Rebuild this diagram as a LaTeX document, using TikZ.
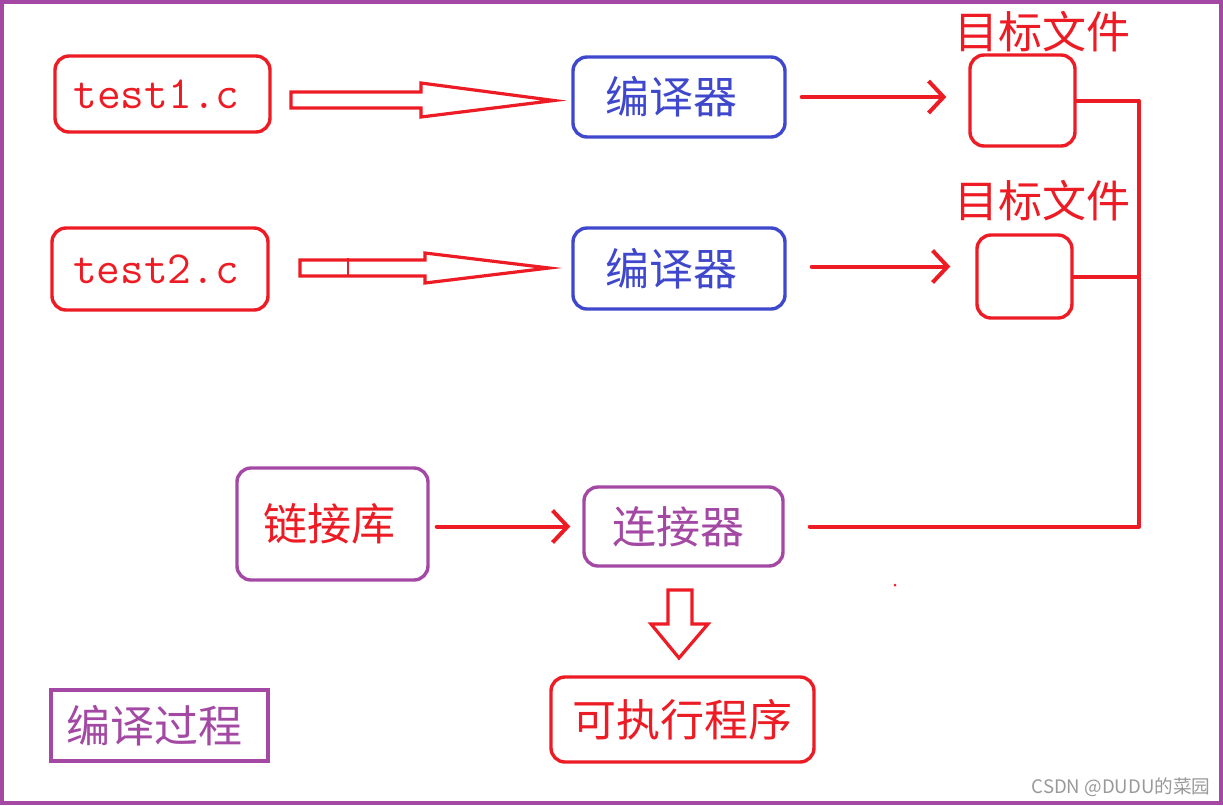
\documentclass[tikz,border=0pt]{standalone}
\usepackage{fontspec}
\newfontfamily\cjk{Noto Sans CJK SC}
\usetikzlibrary{arrows.meta,calc}
\definecolor{pred}{HTML}{ED1C24}
\definecolor{pblue}{HTML}{3F48CC}
\definecolor{ppurple}{HTML}{A349A4}
\begin{document}
\begin{tikzpicture}[x=0.5pt,y=-0.5pt,
  box/.style={draw, rounded corners=7pt, line width=1.7pt, inner sep=0pt, align=center},
  cjkt/.style={font=\cjk\fontsize{22pt}{26pt}\selectfont},
  mono/.style={font=\ttfamily\fontsize{23pt}{27pt}\selectfont},
  conn/.style={draw=pred, line width=2pt, line cap=round, line join=round},
  barb/.style={-{Straight Barb[length=7.5pt,width=16pt]}},
  hollow/.style={draw=pred, line width=1.6pt, fill=white, line join=miter}]
\useasboundingbox (0,0) rectangle (1223,805);
\draw[ppurple, line width=2.2pt] (2,2) rectangle (1221,803);

% source files
\node[box, draw=pred, text=pred, mono, minimum width=107.5pt, minimum height=38pt] (t1) at (162.5,94) {test1.c\hspace*{6pt}};
\node[box, draw=pred, text=pred, mono, minimum width=108pt, minimum height=41pt] (t2) at (160,269) {test2.c\hspace*{4pt}};

% compilers
\node[box, draw=pblue, text=pblue, cjkt, minimum width=106pt, minimum height=40pt] (c1) at (679,97) {编译器\hspace*{8pt}};
\node[box, draw=pblue, text=pblue, cjkt, minimum width=106pt, minimum height=40.5pt] (c2) at (679,268.5) {编译器\hspace*{8pt}};

% object files
\node[box, draw=pred, minimum width=52.5pt, minimum height=45.5pt] (o1) at (1022.5,100.5) {};
\node[box, draw=pred, minimum width=47.5pt, minimum height=41.5pt] (o2) at (1024.5,276.5) {};
\node[text=pred, cjkt, inner sep=0pt] (l1) at (1042,32) {目标文件};
\node[text=pred, cjkt, inner sep=0pt] (l2) at (1042,201) {目标文件};

% linker
\node[box, draw=ppurple, text=pred, cjkt, minimum width=95.5pt, minimum height=56pt] (lib) at (332.5,524) {链接库\hspace*{3pt}};
\node[box, draw=ppurple, text=ppurple, cjkt, minimum width=99.5pt, minimum height=39.5pt] (lnk) at (683.5,526.5) {连接器\hspace*{5pt}};

% result
\node[box, draw=pred, text=pred, cjkt, minimum width=131.5pt, minimum height=42.5pt] (exe) at (682.5,719.5) {可执行程序};
\node[box, rounded corners=0pt, draw=ppurple, text=ppurple, cjkt, minimum width=108.5pt, minimum height=35.5pt] (proc) at (159.5,725.5) {编译过程\hspace*{5pt}};

% hollow arrows
\draw[hollow] (291,92) -- (421,92) -- (421,83) -- (554,100.5) -- (421,117) -- (421,108) -- (291,108) -- cycle;
\draw[hollow] (300,260) -- (425,260) -- (425,253) -- (549,268) -- (425,283) -- (425,276) -- (300,276) -- cycle;
\draw[pred, line width=1.4pt] (348,258) -- (348,276);
\draw[hollow] (668,590) -- (692,590) -- (692,624) -- (708,624) -- (679,658) -- (651,624) -- (668,624) -- cycle;

% connectors
\draw[conn, barb] ([xshift=7.5pt]c1.east) -- ([xshift=-11pt]c1.east -| o1.west);
\draw[conn, barb] ([xshift=12.5pt,yshift=1pt]c2.east) -- ([xshift=-12.5pt,yshift=1pt]c2.east -| o2.west);
\draw[conn, barb] ([xshift=3.5pt]lib.east |- lnk.east) -- ([xshift=-6pt]lnk.west);
\coordinate (bus) at (1139,526.5);
\draw[conn] (o1.east) -| (bus) -- ([xshift=12.5pt]lnk.east);
\draw[conn] (o2.east) -- (o2.east -| bus);

% stray dot
\fill[pred] (895,585) circle (1.5);

% watermark
\node[text=gray!80, font=\cjk\fontsize{9.3pt}{11pt}\selectfont, inner sep=0pt] (wm) at (1121,787) {CSDN @DUDU的菜园};
\end{tikzpicture}
\end{document}
